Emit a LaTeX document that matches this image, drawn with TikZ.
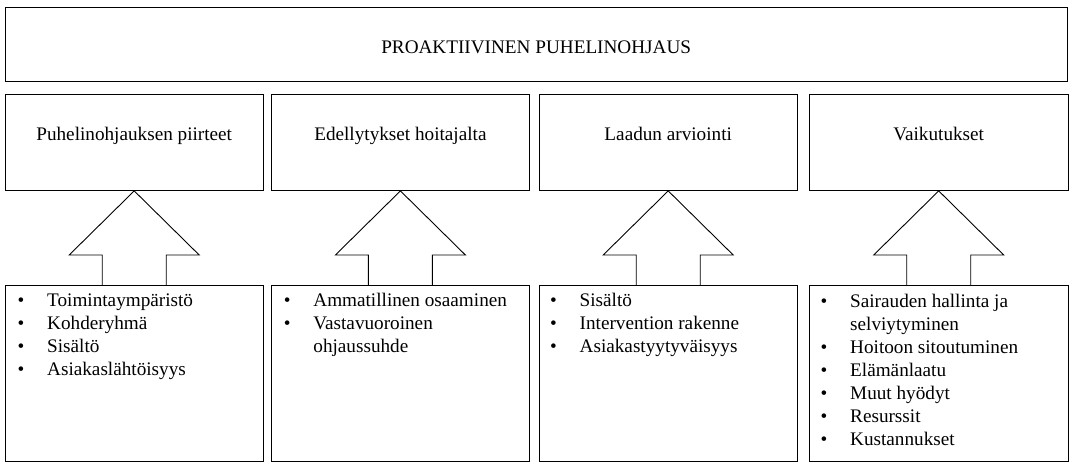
\documentclass[tikz,border=0pt]{standalone}
\usepackage{fontspec}
\setmainfont{Liberation Serif}
\usetikzlibrary{calc}
\newcommand\itemlist[1]{\begin{tabular}[t]{@{}p{29.5pt}@{}l@{}}#1\end{tabular}}
\begin{document}
\begin{tikzpicture}[x=1pt,y=-1pt,
  boxstyle/.style={draw=black,line width=0.9pt,rectangle,inner sep=0pt,anchor=north west},
  headbox/.style={boxstyle,minimum width=258.5pt,minimum height=96pt},
  listbox/.style={boxstyle,minimum width=258.5pt,minimum height=176pt},
  txt/.style={inner sep=0pt,anchor=base,font=\fontsize{19.2}{23}\selectfont},
  listtxt/.style={inner sep=0pt,anchor=base west,font=\fontsize{19.2}{23}\selectfont},
  blockarrow/.style={draw=black,line width=0.9pt,line join=miter}]
\useasboundingbox (0,0) rectangle (1071,462);
% top box
\node[boxstyle,minimum width=1062.5pt,minimum height=74pt] (top) at (4.5,7) {};
\node[txt] (toptxt) at ($(top.north)+(0,47)$) {PROAKTIIVINEN PUHELINOHJAUS};
% header boxes
\node[headbox] (h1) at (4.5,94) {};
\node[headbox] (h2) at (270.7,94) {};
\node[headbox] (h3) at (538.5,94) {};
\node[headbox] (h4) at (809,94) {};
\node[txt] (t1) at ($(h1.north)+(0,47)$) {Puhelinohjauksen piirteet};
\node[txt] (t2) at ($(h2.north)+(0,47)$) {Edellytykset hoitajalta};
\node[txt] (t3) at ($(h3.north)+(0,47)$) {Laadun arviointi};
\node[txt] (t4) at ($(h4.north)+(0,47)$) {Vaikutukset};
% list boxes
\node[listbox] (b1) at (4.5,285) {};
\node[listbox] (b2) at (270.7,285) {};
\node[listbox] (b3) at (538.5,285) {};
\node[listbox] (b4) at (809,285) {};
\node[listtxt] (l1) at ($(b1.north west)+(13,22)$) {\itemlist{%
  \textbullet & Toimintaympäristö\\
  \textbullet & Kohderyhmä\\
  \textbullet & Sisältö\\
  \textbullet & Asiakaslähtöisyys}};
\node[listtxt] (l2) at ($(b2.north west)+(13,22)$) {\itemlist{%
  \textbullet & Ammatillinen osaaminen\\
  \textbullet & Vastavuoroinen\\
   & ohjaussuhde}};
\node[listtxt] (l3) at ($(b3.north west)+(11.5,22)$) {\itemlist{%
  \textbullet & Sisältö\\
  \textbullet & Intervention rakenne\\
  \textbullet & Asiakastyytyväisyys}};
\node[listtxt] (l4) at ($(b4.north west)+(11.5,23)$) {\itemlist{%
  \textbullet & Sairauden hallinta ja\\
   & selviytyminen\\
  \textbullet & Hoitoon sitoutuminen\\
  \textbullet & Elämänlaatu\\
  \textbullet & Muut hyödyt\\
  \textbullet & Resurssit\\
  \textbullet & Kustannukset}};
% block arrows
\foreach \i in {1,2,3,4}{
  \draw[blockarrow] ($(b\i.north)+(-32,0)$) -- ($(b\i.north)+(-32,-30)$)
    -- ($(b\i.north)+(-65,-30)$) -- (h\i.south) -- ($(b\i.north)+(65,-30)$)
    -- ($(b\i.north)+(32,-30)$) -- ($(b\i.north)+(32,0)$);
}
\end{tikzpicture}
\end{document}
